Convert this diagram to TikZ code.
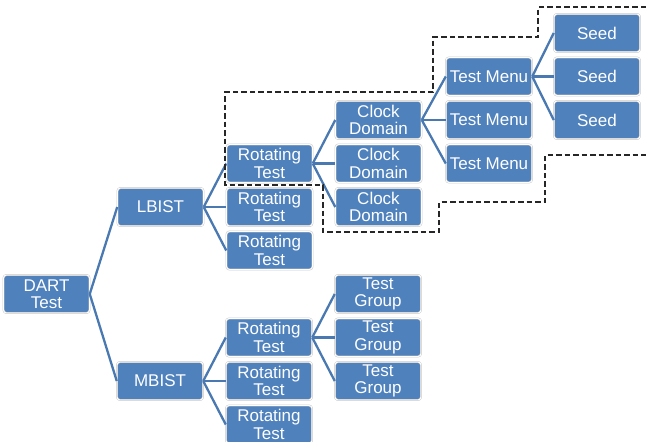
\documentclass[tikz,border=0pt]{standalone}
\usepackage{fontspec}
\setmainfont{Liberation Sans}
\definecolor{boxblue}{RGB}{79,129,189}
\definecolor{lineblue}{RGB}{74,121,178}
\definecolor{rimgray}{RGB}{200,200,200}
\begin{document}
\begin{tikzpicture}[x=1pt,y=-1pt,
  box/.style={draw=rimgray, double=white, double distance=0.9pt, line width=0.5pt,
    fill=boxblue, rounded corners=3pt, minimum width=86pt, minimum height=38pt,
    inner sep=0pt, align=center, text=white, font=\fontsize{17}{17.5}\selectfont},
  link/.style={draw=lineblue, line width=2.3pt},
  frame/.style={draw=black!85, line width=1.8pt, dash pattern=on 5.5pt off 3pt}]
\useasboundingbox (0,0) rectangle (646,442);
% rows: y = 33 + 43.5 k
\node[box] (dart) at (46.5,294) {DART\\Test};
\node[box] (lbist) at (160.5,207) {LBIST};
\node[box] (mbist) at (160,381) {MBIST};
\node[box] (rl1) at (269.5,163.5) {Rotating\\Test};
\node[box] (rl2) at (269.5,207) {Rotating\\Test};
\node[box] (rl3) at (269.5,250.5) {Rotating\\Test};
\node[box] (cd1) at (378.5,120) {Clock\\Domain};
\node[box] (cd2) at (378.5,163.5) {Clock\\Domain};
\node[box] (cd3) at (378.5,207) {Clock\\Domain};
\node[box] (tm1) at (489,76.5) {Test Menu};
\node[box] (tm2) at (489,120) {Test Menu};
\node[box] (tm3) at (489,163.5) {Test Menu};
\node[box] (sd1) at (597,33) {Seed};
\node[box] (sd2) at (597,76.5) {Seed};
\node[box] (sd3) at (597,120) {Seed};
\node[box] (rm1) at (269,337.5) {Rotating\\Test};
\node[box] (rm2) at (269,381) {Rotating\\Test};
\node[box] (rm3) at (269,424.5) {Rotating\\Test};
\node[box] (tg1) at (378,294) {Test\\Group};
\node[box] (tg2) at (378,337.5) {Test\\Group};
\node[box] (tg3) at (378,381) {Test\\Group};
% connectors
\foreach \p/\c in {dart/lbist, dart/mbist,
  lbist/rl1, lbist/rl2, lbist/rl3,
  rl1/cd1, rl1/cd2, rl1/cd3,
  cd1/tm1, cd1/tm2, cd1/tm3,
  tm1/sd1, tm1/sd2, tm1/sd3,
  mbist/rm1, mbist/rm2, mbist/rm3,
  rm1/tg1, rm1/tg2, rm1/tg3}
  \draw[link] (\p.east) -- (\c.west);
% dashed frame
\coordinate (f0) at (646,7);
\coordinate (f1) at (646,155);
\draw[frame] (f0) -- (538,7) -- (538,37) -- (433,37) -- (433,92) -- (225,92)
  -- (225,185) -- (323,185) -- (323,232) -- (439,232) -- (439,202)
  -- (545,202) -- (545,155) -- (f1);
\end{tikzpicture}
\end{document}
